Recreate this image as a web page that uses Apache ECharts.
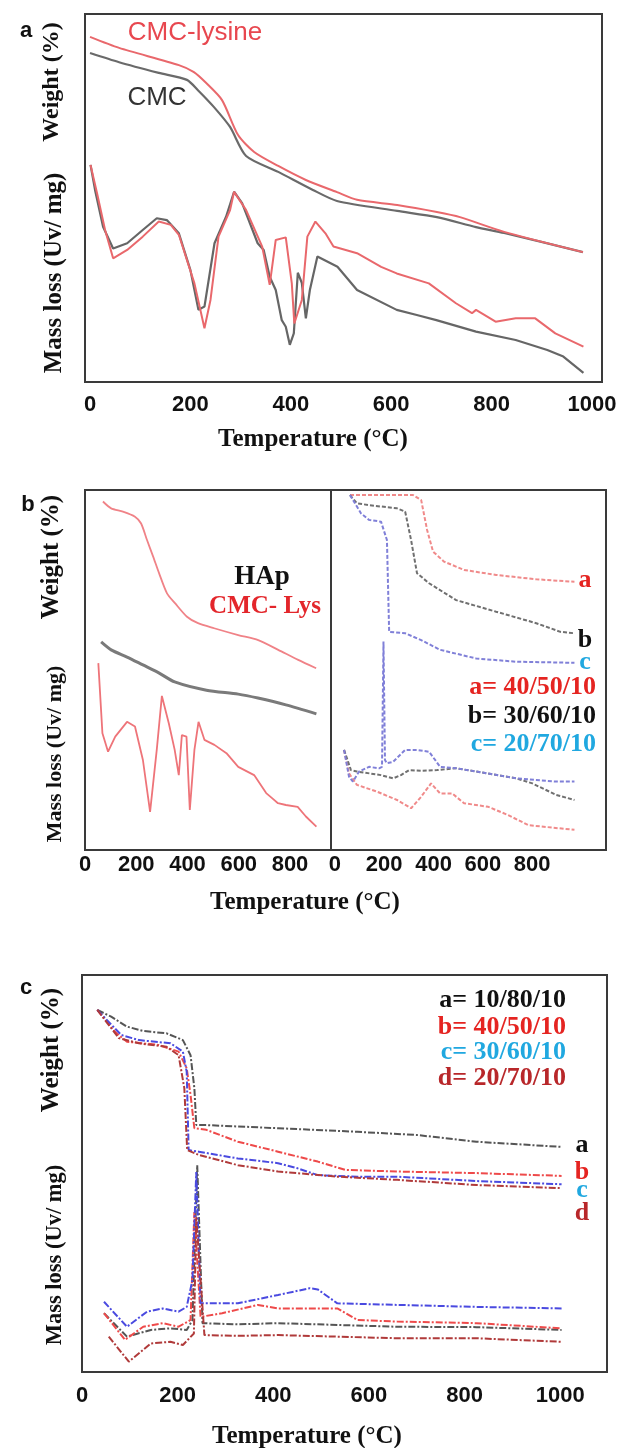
<!DOCTYPE html>
<html>
<head>
<meta charset="utf-8">
<script src="https://cdn.jsdelivr.net/npm/echarts@6/dist/echarts.min.js"></script>
<style>
  html, body { margin: 0; padding: 0; background: #fff; }
  #main { width: 620px; height: 1448px; }
</style>
</head>
<body>
<div id="main"></div>
<script>
// tick labels of the temperature axes
var ticksA = [0, 200, 400, 600, 800, 1000];
var ticksB = [0, 200, 400, 600, 800];
var ticksC = [0, 200, 400, 600, 800, 1000];

// panel a : [temperature, relative signal]
var aLysWeight = [[0,93.8],[58,90.8],[177,86.1],[207,84.2],[231,81.3],[263,76.6],[295,67.1],[327,62.5],[375,58.7],[430,54.9],[492,51.6],[532,49.5],[612,48.1],[691,46.2],[737,44.8],[825,40.8],[982,35.3]];
var aCmcWeight = [[0,89.4],[58,86.9],[137,84.0],[193,82.1],[215,79.3],[247,74.7],[279,69.3],[311,61.4],[375,57.1],[444,52.2],[492,49.2],[612,46.5],[691,44.8],[769,42.1],[825,40.5],[982,35.3]];
var aCmcDtg = [[1,59.0],[10,52.2],[26,42.2],[46,36.3],[74,37.7],[105,41.3],[133,44.5],[153,44.0],[177,40.4],[200,30.4],[216,19.6],[228,20.5],[248,37.7],[271,44.9],[287,51.7],[303,48.6],[334,37.7],[346,35.9],[358,28.6],[370,25.0],[382,16.8],[390,15.0],[398,10.1],[406,13.2],[414,29.7],[422,26.9],[430,17.3],[438,25.0],[453,34.1],[493,31.3],[532,25.0],[611,19.6],[651,18.2],[690,16.8],[769,13.7],[848,11.4],[911,8.7],[943,6.9],[983,2.5]];
var aLysDtg = [[1,59.0],[14,51.3],[30,41.3],[46,33.6],[74,35.9],[105,39.5],[137,43.6],[161,42.7],[177,40.0],[208,26.8],[228,14.6],[240,22.3],[256,39.5],[279,46.7],[287,51.7],[311,46.7],[343,36.8],[358,26.4],[370,38.6],[390,39.3],[402,26.8],[407,15.9],[422,22.3],[433,39.5],[449,43.6],[469,40.4],[485,36.8],[532,35.0],[580,31.3],[611,29.5],[675,26.8],[729,21.4],[761,18.7],[769,19.6],[808,16.4],[848,17.3],[887,17.3],[927,13.2],[983,9.6]];

// panel b, left part
var bLysWeight = [[70,96.8],[102,94.9],[148,94.0],[195,92.6],[219,90.7],[242,86.1],[266,81.5],[289,76.9],[320,71.3],[352,68.5],[398,64.8],[441,63.0],[504,61.6],[598,59.7],[676,58.3],[754,55.6],[832,52.8],[902,50.5]];
var bHapWeight = [[63,57.8],[102,55.6],[164,53.6],[226,51.4],[288,49.2],[350,46.7],[474,44.4],[598,43.3],[675,42.2],[784,40.3],[903,37.8]];
var bLysDtg = [[52,51.9],[68,32.4],[90,27.3],[118,31.5],[164,35.6],[195,34.3],[226,25.0],[254,10.6],[280,27.8],[300,42.8],[327,35.2],[350,27.8],[366,20.8],[378,31.9],[396,31.5],[409,11.1],[427,27.8],[443,35.6],[466,30.6],[505,29.2],[552,26.9],[598,23.1],[660,20.8],[707,15.8],[730,14.4],[753,13.0],[784,12.5],[830,12.0],[862,9.3],[903,6.5]];

// panel b, right part
var bWeightA = [[61,98.6],[317,98.6],[350,97.2],[374,88.9],[398,82.9],[443,80.1],[524,77.8],[654,76.4],[817,75.2],[972,74.5]];
var bWeightB = [[61,98.6],[89,96.3],[138,95.8],[252,94.9],[285,94.0],[309,86.1],[333,76.9],[382,74.1],[492,69.4],[654,66.2],[817,63.0],[915,60.6],[972,60.2]];
var bWeightC = [[61,98.6],[106,93.5],[138,91.7],[187,91.2],[211,86.1],[220,60.6],[285,60.2],[350,58.3],[427,55.6],[573,53.2],[736,52.3],[972,52.0]];
var bDtgA = [[37,27.8],[57,21.3],[89,18.1],[171,16.2],[252,13.9],[309,11.6],[350,14.8],[390,18.5],[427,15.7],[476,15.7],[524,13.0],[622,12.0],[703,9.7],[785,6.9],[972,5.6]];
var bDtgB = [[37,27.8],[65,22.2],[89,21.8],[187,20.8],[236,19.9],[268,20.8],[301,22.2],[350,22.0],[415,22.2],[492,22.7],[573,21.8],[736,19.9],[801,18.5],[898,15.3],[972,13.9]];
var bDtgC = [[37,27.8],[57,20.4],[73,19.0],[98,21.8],[138,23.1],[179,22.7],[191,23.1],[197,57.9],[203,25.0],[211,24.1],[236,24.5],[285,27.8],[333,27.8],[382,27.3],[427,23.1],[492,22.7],[573,21.8],[736,19.9],[898,19.0],[972,19.0]];

// panel c
var cWeightA = [[32,91.2],[61,89.5],[94,87.0],[128,85.9],[177,85.3],[211,83.6],[227,79.8],[235,71.5],[239,62.2],[260,62.2],[410,61.4],[576,60.5],[700,59.7],[825,58.0],[1003,56.7]];
var cWeightB = [[32,91.2],[69,85.7],[94,83.2],[160,82.4],[202,80.7],[219,76.5],[227,69.8],[235,61.4],[260,61.0],[326,58.0],[410,55.5],[493,53.0],[551,50.9],[659,50.5],[825,50.1],[1003,49.4]];
var cWeightC = [[32,91.2],[82,84.9],[119,83.6],[185,82.8],[211,80.7],[219,75.6],[223,55.9],[244,55.5],[326,53.8],[410,52.6],[451,51.3],[493,49.6],[576,49.2],[659,49.2],[825,48.1],[1003,47.3]];
var cWeightD = [[32,91.2],[77,84.1],[119,82.8],[177,81.9],[202,79.8],[214,71.5],[220,55.9],[244,54.7],[326,52.1],[410,50.5],[534,49.2],[659,48.4],[825,47.1],[1003,46.3]];
var cDtgA = [[46,14.8],[94,8.9],[144,10.6],[185,11.0],[219,10.6],[231,13.1],[241,52.1],[252,12.3],[326,12.0],[410,12.3],[659,11.4],[825,11.3],[1003,10.6]];
var cDtgB = [[46,14.8],[90,8.1],[128,11.4],[169,12.3],[202,11.4],[227,13.1],[235,40.3],[248,13.9],[293,14.8],[368,16.9],[410,16.0],[534,16.0],[576,13.1],[659,12.7],[825,12.3],[1003,11.0]];
var cDtgC = [[46,17.7],[94,11.4],[136,15.2],[169,16.0],[202,15.2],[219,16.4],[231,23.2],[239,50.4],[248,17.3],[326,17.3],[410,19.4],[476,21.1],[493,20.8],[534,17.3],[659,16.9],[825,16.4],[1003,16.0]];
var cDtgD = [[56,8.9],[98,2.6],[144,7.2],[185,7.6],[211,6.8],[234,9.7],[239,39.0],[256,9.3],[326,9.1],[410,9.3],[659,8.5],[825,8.5],[1003,7.6]];

var serif = '"Liberation Serif", "Times New Roman", serif';
var sans = '"Liberation Sans", Arial, sans-serif';
var frame = '#3a3a3a';

function xAxisFor(grid, min, max, ticks, margin) {
	return {
		type: 'value', gridIndex: grid, min: min, max: max,
		axisLine: { show: false }, axisTick: { show: false }, splitLine: { show: false },
		axisLabel: {
			customValues: ticks, margin: margin,
			formatter: function (v) { return String(v); },
			color: '#111', fontFamily: sans, fontWeight: 'bold', fontSize: 22
		}
	};
}
function yAxisFor(grid) {
	return { type: 'value', gridIndex: grid, min: 0, max: 100, show: false };
}
function line(axis, data, color, width, type, smooth) {
	return {
		type: 'line', xAxisIndex: axis, yAxisIndex: axis, data: data,
		showSymbol: false, symbol: 'none', silent: true,
		smooth: smooth || false,
		lineStyle: { color: color, width: width, type: type || 'solid' }
	};
}
function label(text, x, y, color, size, opts) {
	opts = opts || {};
	return {
		type: 'text', x: x, y: y, rotation: opts.rot || 0, silent: true,
		style: {
			text: text, fill: color,
			font: (opts.normal ? '' : 'bold ') + size + 'px ' + (opts.family || serif),
			textAlign: opts.align || 'center', textVerticalAlign: 'middle'
		}
	};
}
function vLabel(text, x, y, size) {
	return label(text, x, y, '#111', size, { rot: Math.PI / 2 });
}

var myChart = echarts.init(document.getElementById('main'), null, { renderer: 'canvas' });

var dashB = [4, 2];
var dashC = [7, 2, 2, 2];

var option = {
	backgroundColor: '#fff',
	animation: false,
	grid: [
		{ left: 85, top: 14, width: 517, height: 368, show: true, borderColor: frame, borderWidth: 2 },
		{ left: 85, top: 490, width: 246, height: 360, show: true, borderColor: frame, borderWidth: 2 },
		{ left: 331, top: 490, width: 275, height: 360, show: true, borderColor: frame, borderWidth: 2 },
		{ left: 82, top: 975, width: 525, height: 397, show: true, borderColor: frame, borderWidth: 2 }
	],
	xAxis: [
		xAxisFor(0, -10, 1020, ticksA, 12),
		xAxisFor(1, 0, 960, ticksB, 4),
		xAxisFor(2, -16, 1100, ticksB, 4),
		xAxisFor(3, 0, 1098, ticksC, 13)
	],
	yAxis: [yAxisFor(0), yAxisFor(1), yAxisFor(2), yAxisFor(3)],
	series: [
		line(0, aCmcWeight, '#6a6a6a', 2.2, null, 0.25),
		line(0, aLysWeight, '#e9686c', 2, null, 0.25),
		line(0, aCmcDtg, '#666666', 2.2),
		line(0, aLysDtg, '#e9686c', 2),

		line(1, bLysWeight, '#f08287', 1.8, null, 0.25),
		line(1, bHapWeight, '#7a7a7a', 3, null, 0.25),
		line(1, bLysDtg, '#ee7479', 1.8),

		line(2, bWeightA, '#f08a8a', 2, dashB),
		line(2, bWeightB, '#707070', 2, dashB),
		line(2, bWeightC, '#8080d8', 2, dashB),
		line(2, bDtgA, '#f08a8a', 2, dashB),
		line(2, bDtgB, '#707070', 2, dashB),
		line(2, bDtgC, '#8080d8', 2, dashB),

		line(3, cWeightA, '#555555', 2, dashC),
		line(3, cWeightB, '#ee4a4a', 2, dashC),
		line(3, cWeightC, '#4a4ae0', 2, dashC),
		line(3, cWeightD, '#b03a3a', 2, dashC),
		line(3, cDtgA, '#555555', 2, dashC),
		line(3, cDtgB, '#ee4a4a', 2, dashC),
		line(3, cDtgC, '#4a4ae0', 2, dashC),
		line(3, cDtgD, '#b03a3a', 2, dashC)
	],
	graphic: [
		// panel a
		label('a', 26, 31, '#111', 22, { family: sans }),
		vLabel('Weight (%)', 52, 82, 24),
		vLabel('Mass loss (Uv/ mg)', 55, 273, 25),
		label('CMC-lysine', 195, 33, '#e8474f', 26, { family: sans, normal: true }),
		label('CMC', 157, 98, '#333333', 26, { family: sans, normal: true }),
		label('Temperature (°C)', 313, 440, '#111', 25),

		// panel b
		label('b', 28, 505, '#111', 22, { family: sans }),
		vLabel('Weight (%)', 52, 557, 25),
		vLabel('Mass loss (Uv/ mg)', 55, 754, 22),
		label('HAp', 262, 577, '#111', 27),
		label('CMC- Lys', 265, 607, '#e3262b', 25),
		label('a', 585, 580, '#e52421', 26),
		label('b', 585, 640, '#111', 26),
		label('c', 585, 662, '#20a8e0', 26),
		label('a= 40/50/10', 596, 687, '#e52421', 26, { align: 'right' }),
		label('b= 30/60/10', 596, 716, '#111', 26, { align: 'right' }),
		label('c= 20/70/10', 596, 744, '#20a8e0', 26, { align: 'right' }),
		label('Temperature (°C)', 305, 903, '#111', 25),

		// panel c
		label('c', 26, 988, '#111', 22, { family: sans }),
		vLabel('Weight (%)', 52, 1050, 25),
		vLabel('Mass loss (Uv/ mg)', 55, 1255, 22.5),
		label('a= 10/80/10', 566, 1000, '#111', 26, { align: 'right' }),
		label('b= 40/50/10', 566, 1027, '#e52421', 26, { align: 'right' }),
		label('c= 30/60/10', 566, 1052, '#20a8e0', 26, { align: 'right' }),
		label('d= 20/70/10', 566, 1078, '#b8272a', 26, { align: 'right' }),
		label('a', 582, 1145, '#111', 26),
		label('b', 582, 1172, '#e52421', 26),
		label('c', 582, 1190, '#20a8e0', 26),
		label('d', 582, 1213, '#b8272a', 26),
		label('Temperature (°C)', 307, 1437, '#111', 25)
	]
};

myChart.setOption(option);
</script>
</body>
</html>
